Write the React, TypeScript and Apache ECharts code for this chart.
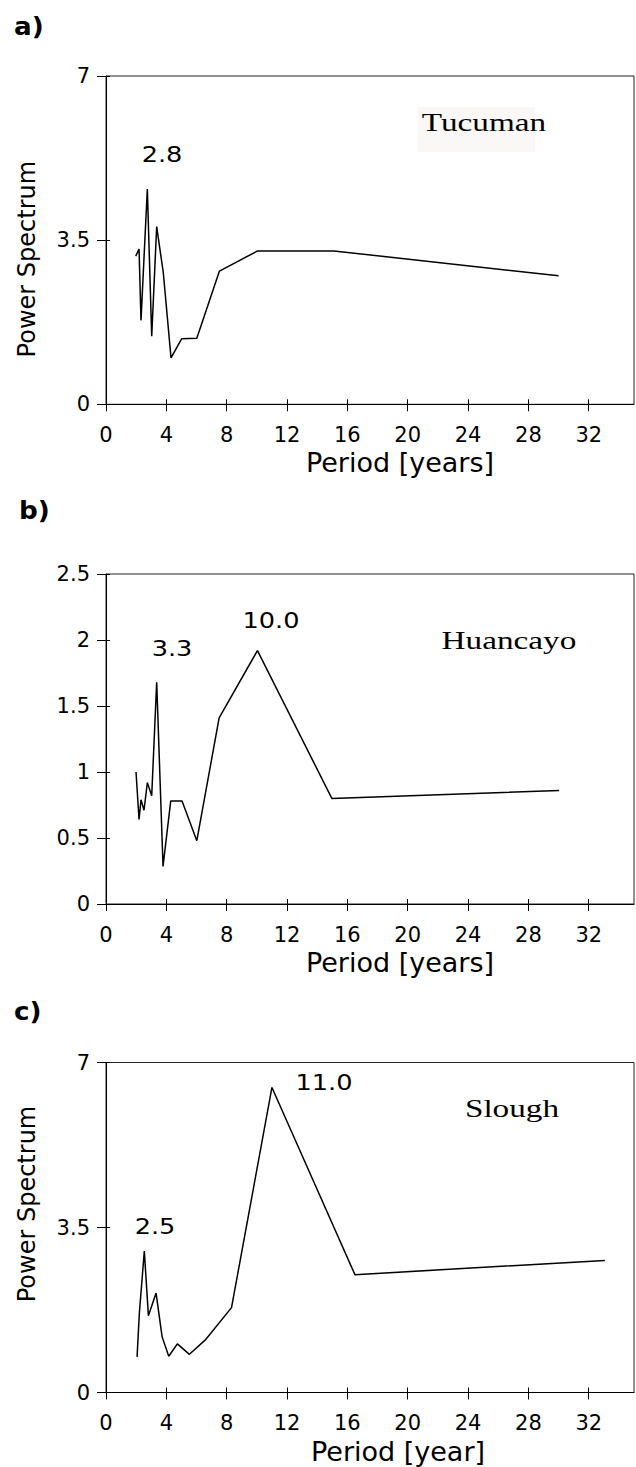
import React, { useEffect, useRef } from "react";
import * as echarts from "echarts";

// ---- data ----
const xTicks = [0, 4, 8, 12, 16, 20, 24, 28, 32];

// a) Tucuman
const periodA = [1.97, 2.19, 2.32, 2.74, 3.03, 3.36, 3.8, 4.31, 5.02, 6.02, 7.52, 10.05, 15.1, 30.0];
const powerA = [3.16, 3.31, 1.79, 4.59, 1.45, 3.79, 2.8, 0.99, 1.4, 1.41, 2.84, 3.27, 3.27, 2.74];

// b) Huancayo
const periodB = [1.99, 2.19, 2.32, 2.52, 2.74, 3.03, 3.36, 3.78, 4.29, 5.04, 6.02, 7.5, 10.04, 14.97, 30.04];
const powerB = [1.0, 0.64, 0.79, 0.71, 0.92, 0.82, 1.68, 0.285, 0.78, 0.78, 0.48, 1.41, 1.92, 0.8, 0.86];

// c) Slough
const periodC = [2.06, 2.21, 2.54, 2.81, 3.32, 3.72, 4.16, 4.73, 5.53, 6.57, 8.32, 11.0, 16.5, 33.07];
const powerC = [0.755, 1.68, 3.0, 1.63, 2.11, 1.18, 0.77, 1.03, 0.81, 1.11, 1.8, 6.47, 2.5, 2.8];

const panelLabels = ["a)", "b)", "c)"];
const stationNames = ["Tucuman", "Huancayo", "Slough"];
const peakLabelsA = ["2.8"];
const peakLabelsB = ["3.3", "10.0"];
const peakLabelsC = ["2.5", "11.0"];
const xTitles = ["Period [years]", "Period [years]", "Period [year]"];
const yTitle = "Power Spectrum";

const SANS = "DejaVu Sans";
const SERIF = "Liberation Serif";

export default function App() {
  const ref = useRef<HTMLDivElement>(null);

  useEffect(() => {
    if (!ref.current) return;
    const chart = echarts.init(ref.current, undefined, { renderer: "svg" });

    const grids = [
      { left: 106, width: 528, top: 76, height: 328.3, show: true, borderColor: "#222", borderWidth: 1 },
      { left: 106, width: 528, top: 574, height: 330, show: true, borderColor: "#222", borderWidth: 1 },
      { left: 106, width: 528, top: 1062.5, height: 330, show: true, borderColor: "#222", borderWidth: 1 },
    ];
    const yMax = [7, 2.5, 7];
    const yInt = [3.5, 0.5, 3.5];
    const xNamePad = [60, 60, 56];
    const yNamePad: (number[] | null)[] = [[0, 38, 0, 0], null, [0, 0, 0, 47]];

    const xAxes: any[] = [];
    const yAxes: any[] = [];
    for (let i = 0; i < 3; i++) {
      xAxes.push({
        type: "value",
        gridIndex: i,
        min: 0,
        max: 35,
        interval: 4,
        axisLine: { show: true, lineStyle: { color: "#000", width: 1 } },
        axisTick: { show: true, length: 7, customValues: xTicks, lineStyle: { color: "#000" } },
        axisLabel: { customValues: xTicks, margin: 20, color: "#000", fontFamily: SANS, fontSize: 21 },
        splitLine: { show: false },
        name: xTitles[i],
        nameLocation: "middle",
        nameGap: 45,
        nameTextStyle: { fontFamily: SANS, fontSize: 27, color: "#000", padding: [0, 0, 0, xNamePad[i]] },
      });
      const ya: any = {
        type: "value",
        gridIndex: i,
        min: 0,
        max: yMax[i],
        interval: yInt[i],
        position: "left",
        axisLine: { show: true, lineStyle: { color: "#000", width: 1 } },
        axisTick: { show: true, length: 9, lineStyle: { color: "#000" } },
        axisLabel: { margin: 16, color: "#000", fontFamily: SANS, fontSize: 21 },
        splitLine: { show: false },
      };
      if (yNamePad[i]) {
        ya.name = yTitle;
        ya.nameLocation = "middle";
        ya.nameGap = 67;
        ya.nameTextStyle = { fontFamily: SANS, fontSize: 24, color: "#000", padding: yNamePad[i] };
      }
      yAxes.push(ya);
    }
    // inner tick marks (ticks cross the axis lines)
    for (let i = 0; i < 3; i++) {
      xAxes.push({
        type: "value",
        gridIndex: i,
        min: 0,
        max: 35,
        interval: 4,
        position: "bottom",
        offset: 0,
        axisLine: { show: false },
        axisTick: { show: true, inside: true, length: 5, customValues: xTicks, lineStyle: { color: "#000" } },
        axisLabel: { show: false },
        splitLine: { show: false },
      });
      yAxes.push({
        type: "value",
        gridIndex: i,
        min: 0,
        max: yMax[i],
        interval: yInt[i],
        position: "left",
        offset: 0,
        axisLine: { show: false },
        axisTick: { show: true, inside: true, length: 4, lineStyle: { color: "#000" } },
        axisLabel: { show: false },
        splitLine: { show: false },
      });
    }

    const mk = (xs: number[], ys: number[], i: number) => ({
      type: "line",
      xAxisIndex: i,
      yAxisIndex: i,
      data: xs.map((x, k) => [x, ys[k]]),
      symbol: "none",
      lineStyle: { color: "#000", width: 1.5 },
      z: 5,
    });

    const txt = (text: string, x: number, y: number, font: string, size: number, sx: number, align = "center", weight = "normal") => ({
      type: "text",
      x,
      y,
      scaleX: sx,
      z: 10,
      style: { text, fill: "#000", fontFamily: font, fontSize: size, fontWeight: weight, align, verticalAlign: "middle" },
    });

    const graphic: any[] = [
      { type: "rect", shape: { x: 418, y: 107, width: 117, height: 45 }, style: { fill: "#f9f8f6" }, z: 1 },
      txt(panelLabels[0], 14, 26, SANS, 25, 1.05, "left", "bold"),
      txt(panelLabels[1], 19, 510, SANS, 25, 1.05, "left", "bold"),
      txt(panelLabels[2], 14, 1011, SANS, 25, 1.05, "left", "bold"),
      txt(stationNames[0], 484, 123, SERIF, 25, 1.33),
      txt(stationNames[1], 509, 641, SERIF, 25, 1.33),
      txt(stationNames[2], 512, 1109, SERIF, 25, 1.33),
      txt(peakLabelsA[0], 162, 155, SANS, 21, 1.22),
      txt(peakLabelsB[0], 172, 649, SANS, 21, 1.22),
      txt(peakLabelsB[1], 271, 621, SANS, 21, 1.22),
      txt(peakLabelsC[0], 155, 1226.5, SANS, 21, 1.22),
      txt(peakLabelsC[1], 324, 1083, SANS, 21, 1.22),
    ];

    chart.setOption({
      animation: false,
      backgroundColor: "#fff",
      grid: grids,
      xAxis: xAxes,
      yAxis: yAxes,
      series: [mk(periodA, powerA, 0), mk(periodB, powerB, 1), mk(periodC, powerC, 2)],
      graphic,
    });
    return () => chart.dispose();
  }, []);

  return <div ref={ref} style={{ position: "absolute", left: 0, top: 0, width: 636, height: 1467 }} />;
}
